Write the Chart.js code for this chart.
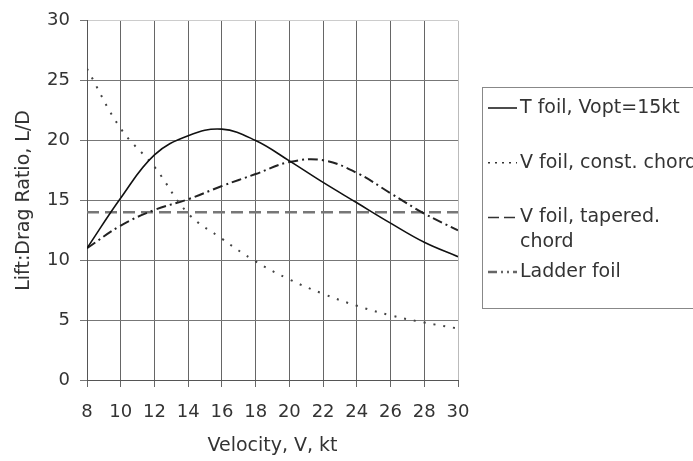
<!DOCTYPE html>
<html><head><meta charset="utf-8">
<script src="https://cdn.jsdelivr.net/npm/chart.js@4.4.1/dist/chart.umd.min.js"></script>
<style>html,body{margin:0;padding:0;background:#fff;} canvas{display:block;}</style>
</head><body>
<canvas id="c" width="693" height="461"></canvas>
<script>
// ---- data ----
const velocity      = [8, 10, 12, 14, 16, 18, 20, 22, 24, 26, 28, 30];
const tFoil         = [11.0, 15.2, 18.8, 20.4, 20.95, 20.0, 18.3, 16.5, 14.8, 13.1, 11.5, 10.3];
const vFoilConst    = [26.0, 21.0, 17.8, 13.9, 11.8, 9.9, 8.4, 7.2, 6.2, 5.4, 4.8, 4.3];
const vFoilTapered  = [11.0, 12.9, 14.2, 15.1, 16.2, 17.2, 18.2, 18.35, 17.3, 15.6, 13.9, 12.5];
const ladderFoil    = [14, 14, 14, 14, 14, 14, 14, 14, 14, 14, 14, 14];
const seriesNames   = ['T foil, Vopt=15kt', 'V foil, const. chord', 'V foil, tapered.\nchord', 'Ladder foil'];
const xTitle = 'Velocity, V, kt';
const yTitle = 'Lift:Drag Ratio, L/D';

const FONT = 'DejaVu Sans';
Chart.defaults.font.family = FONT;
Chart.defaults.font.size = 18;
Chart.defaults.color = '#333';

const pts = arr => velocity.map((v, i) => ({x: v, y: arr[i]}));

const legendStyles = [
  {color: '#111', width: 1.5, dash: []},
  {color: '#333', width: 1.5, dash: [2, 5]},
  {color: '#333', width: 1.5, dash: [11, 5]},
  {color: '#666', width: 2.5, dash: [9, 4, 2, 4, 2, 4]}
];

const boxLegend = {
  id: 'boxLegend',
  afterDraw(chart) {
    const ctx = chart.ctx;
    const ca = chart.chartArea;
    const left = ca.right + 24.5, top = 87.5, bottom = 308.5;
    ctx.save();
    ctx.strokeStyle = '#888';
    ctx.lineWidth = 1;
    ctx.setLineDash([]);
    ctx.strokeRect(left, top, 300, bottom - top);
    ctx.font = '19px "' + FONT + '"';
    ctx.textBaseline = 'middle';
    ctx.fillStyle = '#333';
    const step = 54.7;
    seriesNames.forEach((name, i) => {
      const y = 108 + i * step;
      const s = legendStyles[i];
      ctx.beginPath();
      ctx.strokeStyle = s.color;
      ctx.lineWidth = s.width;
      ctx.setLineDash(s.dash);
      ctx.moveTo(left + 5.5, y);
      ctx.lineTo(left + 34.5, y);
      ctx.stroke();
      ctx.setLineDash([]);
      name.split('\n').forEach((line, j) => {
        ctx.fillText(line, left + 37.5, y + j * 25);
      });
    });
    ctx.restore();
  }
};

new Chart(document.getElementById('c'), {
  type: 'line',
  data: {
    datasets: [
      {label: seriesNames[0], data: pts(tFoil), borderColor: '#111', borderWidth: 1.6, tension: 0.4},
      {label: seriesNames[1], data: pts(vFoilConst), borderColor: '#444', borderWidth: 2, borderDash: [2, 8], tension: 0.4},
      {label: seriesNames[2], data: pts(vFoilTapered), borderColor: '#222', borderWidth: 2, borderDash: [10, 4, 2, 4], tension: 0.4},
      {label: seriesNames[3], data: pts(ladderFoil), borderColor: '#777', borderWidth: 2.5, borderDash: [12, 6], tension: 0}
    ]
  },
  options: {
    responsive: false,
    animation: false,
    devicePixelRatio: 1,
    elements: {point: {radius: 0}},
    layout: {padding: {left: 0, right: 235, top: 15, bottom: 0}},
    plugins: {legend: {display: false}, tooltip: {enabled: false}},
    scales: {
      x: {
        type: 'linear', min: 8, max: 30,
        ticks: {stepSize: 2, padding: 15, maxRotation: 0, autoSkip: false},
        grid: {color: ctx => ctx.tick && ctx.tick.value === 30 ? '#bbb' : '#666', tickLength: 7, tickColor: '#666'},
        border: {color: '#555'},
        title: {display: true, text: xTitle, font: {size: 19}, padding: {top: 4, bottom: 4}},
        afterFit: s => { s.height = 81; }
      },
      y: {
        min: 0, max: 30,
        ticks: {stepSize: 5, padding: 10},
        grid: {color: ctx => ctx.tick && ctx.tick.value === 30 ? '#ccc' : '#777', tickLength: 7, tickColor: '#777'},
        border: {color: '#555'},
        title: {display: true, text: yTitle, font: {size: 19}, padding: {top: 13, bottom: 4}},
        afterFit: s => { s.width = 87; }
      }
    }
  },
  plugins: [boxLegend]
});
</script>
</body></html>
